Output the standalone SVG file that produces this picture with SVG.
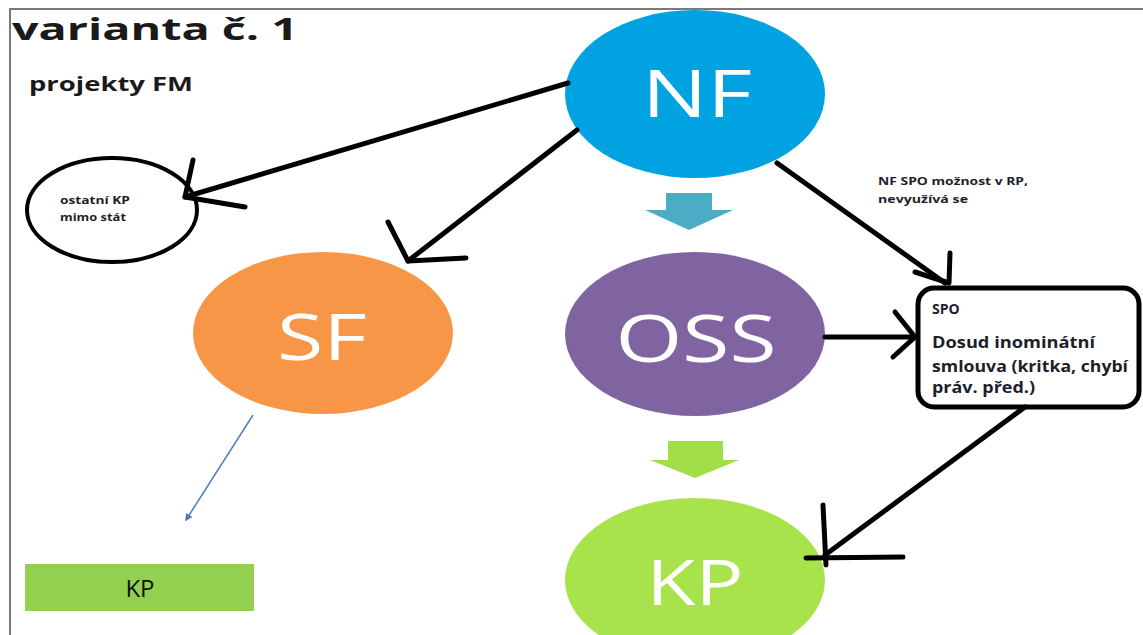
<svg xmlns="http://www.w3.org/2000/svg" width="1143" height="635" viewBox="0 0 1143 635">
<style>
.frame{stroke:#7a7a7a;stroke-width:2;fill:none}
.ink{stroke:#000;stroke-width:5;fill:none;stroke-linecap:round;stroke-linejoin:round}
.big{font-family:"Open Sans","Liberation Sans",sans-serif;fill:#fff;text-anchor:middle}
.lbl{font-family:"Open Sans","Liberation Sans",sans-serif;font-weight:bold;fill:#1e1e2a}
</style>
<defs>
<marker id="blueHead" viewBox="0 0 10 10" refX="8" refY="5" markerWidth="5" markerHeight="5" orient="auto">
<path d="M0,0 L10,5 L0,10 z" fill="#4A7EBB"/>
</marker>
</defs>
<rect width="1143" height="635" fill="#fff"/>
<path class="frame" d="M10,635 V9 H1143"/>
<text x="12" y="40" font-family="Open Sans, Liberation Sans, sans-serif" font-weight="bold" font-size="31" fill="#1a1a1a" textLength="286" lengthAdjust="spacingAndGlyphs">varianta č. 1</text>
<text x="29" y="91" font-family="Open Sans, Liberation Sans, sans-serif" font-weight="bold" font-size="19" fill="#1a1a1a" textLength="164" lengthAdjust="spacingAndGlyphs">projekty FM</text>

<g id="nf">
<ellipse cx="695" cy="94" rx="130" ry="84" fill="#00A2E2"/>
<text class="big" x="697" y="117" font-size="66" textLength="110" lengthAdjust="spacingAndGlyphs">NF</text>
</g>
<g id="nf-osa-arrow">
<path d="M666,193 H712 V210 H733 L689,230 L645,210 H666 Z" fill="#4BACC6"/>
</g>
<g id="ostatni">
<ellipse cx="112" cy="210" rx="85" ry="52" fill="none" stroke="#000" stroke-width="4"/>
<text class="lbl" x="60" y="204" font-size="11" textLength="70" lengthAdjust="spacingAndGlyphs">ostatní KP</text>
<text class="lbl" x="60" y="221" font-size="11" textLength="66" lengthAdjust="spacingAndGlyphs">mimo stát</text>
</g>
<g id="sf">
<ellipse cx="323" cy="333" rx="130" ry="81" fill="#F79646"/>
<text class="big" x="322" y="360" font-size="64" textLength="90" lengthAdjust="spacingAndGlyphs">SF</text>
</g>
<g id="oss">
<ellipse cx="695" cy="334" rx="130" ry="82" fill="#8064A2"/>
<text class="big" x="696" y="362" font-size="66" textLength="161" lengthAdjust="spacingAndGlyphs">OSS</text>
</g>
<g id="oss-kp-arrow">
<path d="M668,441 H723 V460 H739 L695,478 L650,460 H668 Z" fill="#A3DD48"/>
</g>
<g id="kp">
<ellipse cx="695" cy="580" rx="130" ry="82" fill="#A9E34B"/>
<text class="big" x="695" y="605" font-size="62" textLength="97" lengthAdjust="spacingAndGlyphs">KP</text>
</g>
<g id="kp-rect">
<rect x="25" y="564" width="229" height="47" fill="#92D050"/>
<text x="140" y="597" font-family="Open Sans, Liberation Sans, sans-serif" font-size="24" fill="#111" text-anchor="middle">KP</text>
</g>
<g id="spo">
<rect x="918" y="288" width="221" height="119" rx="16" fill="#fff" stroke="#000" stroke-width="5"/>
<text class="lbl" x="932" y="314" font-size="14">SPO</text>
<text class="lbl" x="932" y="348" font-size="16" textLength="163" lengthAdjust="spacingAndGlyphs">Dosud inominátní</text>
<text class="lbl" x="932" y="372" font-size="16" textLength="196" lengthAdjust="spacingAndGlyphs">smlouva (kritka, chybí</text>
<text class="lbl" x="932" y="393" font-size="16" textLength="103" lengthAdjust="spacingAndGlyphs">práv. před.)</text>
</g>
<g id="note">
<text class="lbl" x="878" y="185" font-size="11" textLength="150" lengthAdjust="spacingAndGlyphs">NF SPO možnost v RP,</text>
<text class="lbl" x="878" y="203" font-size="11" textLength="90" lengthAdjust="spacingAndGlyphs">nevyužívá se</text>
</g>
<g id="connectors">
<path class="ink" d="M568,83 L185,197"/>
<path class="ink" d="M193,160 L185,197 L245,207"/>
<path class="ink" d="M577,130 L408,261"/>
<path class="ink" d="M388,222 L408,261 L466,258"/>
<path class="ink" d="M777,163 L945,283"/>
<path class="ink" d="M950,253 L949,283 L915,272"/>
<path class="ink" d="M825,337 L915,337"/>
<path class="ink" d="M895,312 L915,337 L893,357"/>
<path class="ink" d="M1025,407 L825,555"/>
<path class="ink" d="M823,505 L826,565"/>
<path class="ink" d="M806,558 L903,557"/>
<path d="M253,415 L186,520" stroke="#4A7EBB" stroke-width="1.5" fill="none" marker-end="url(#blueHead)"/>
</g>
</svg>
